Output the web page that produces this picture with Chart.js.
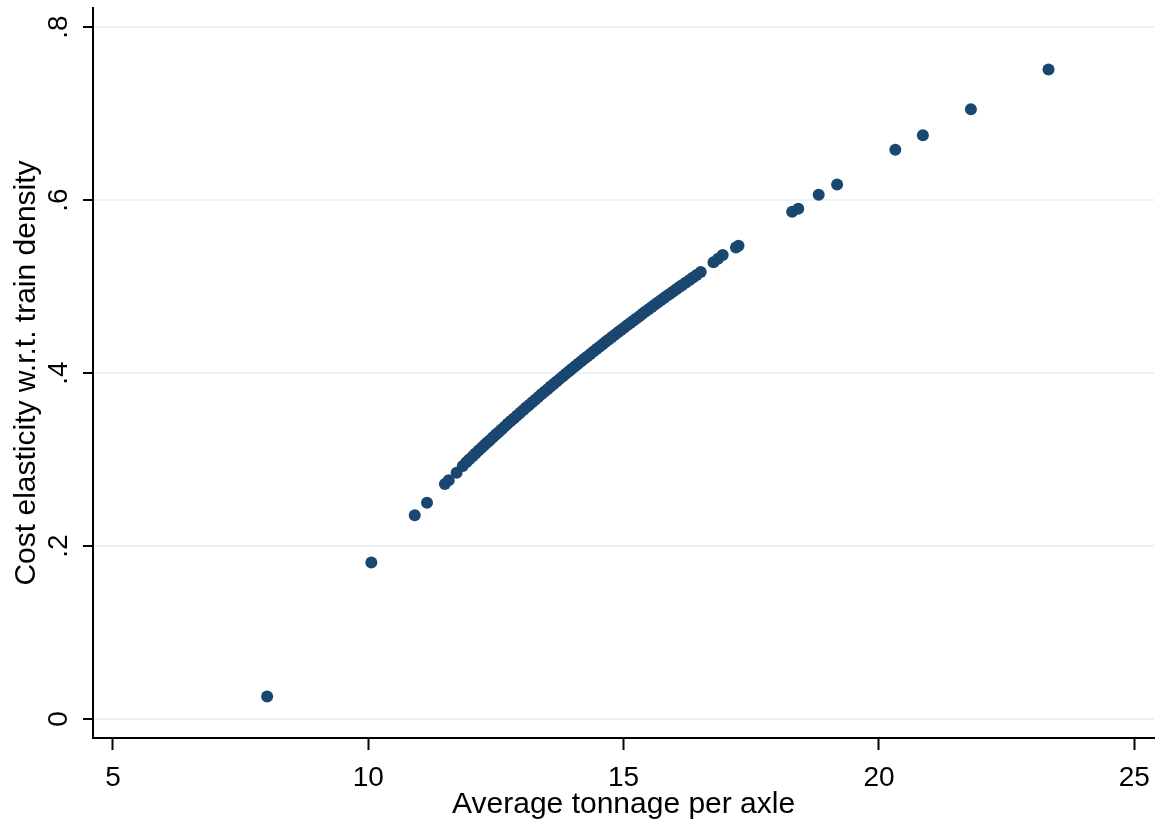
<!DOCTYPE html>
<html>
<head>
<meta charset="utf-8">
<script src="https://cdn.jsdelivr.net/npm/chart.js@4/dist/chart.umd.min.js"></script>
<style>
  html, body { margin: 0; padding: 0; background: #fff; }
  #wrap { width: 1161px; height: 827px; }
</style>
</head>
<body>
<div id="wrap"><canvas id="grafica"></canvas></div>
<script>
// datos
const tonelaje = [
  8.02, 10.06, 10.91, 11.15, 11.50, 11.575, 11.73, 11.85,
  11.92, 11.98, 12.05, 12.10, 12.16, 12.22, 12.27, 12.33, 12.38, 12.44,
  12.50, 12.55, 12.61, 12.67, 12.73, 12.79, 12.85, 12.91, 12.97, 13.03,
  13.09, 13.15, 13.21, 13.27, 13.33, 13.39, 13.45, 13.51, 13.57, 13.63,
  13.69, 13.75, 13.81, 13.87, 13.93, 13.99, 14.05, 14.11, 14.17, 14.23,
  14.29, 14.35, 14.41, 14.47, 14.53, 14.59, 14.65, 14.71, 14.77, 14.83,
  14.89, 14.95, 15.01, 15.07, 15.13, 15.19, 15.25, 15.31, 15.37, 15.43,
  15.49, 15.55, 15.61, 15.67, 15.73, 15.79, 15.85, 15.91, 15.97, 16.03,
  16.09, 16.15, 16.22, 16.29, 16.36, 16.43, 16.51,
  16.76, 16.85, 16.94, 17.20, 17.25,
  18.30, 18.42, 18.82, 19.18, 20.32, 20.86, 21.80, 23.32
];
const elasticidad = [
  0.026, 0.181, 0.2355, 0.250, 0.2717, 0.276, 0.2847, 0.2925,
  0.2968, 0.3002, 0.3041, 0.3069, 0.3103, 0.3136, 0.3164, 0.3196, 0.3223, 0.3256,
  0.3288, 0.3315, 0.3348, 0.3380, 0.3412, 0.3444, 0.3475, 0.3507, 0.3538, 0.3569,
  0.3600, 0.3631, 0.3662, 0.3692, 0.3723, 0.3753, 0.3783, 0.3813, 0.3843, 0.3873,
  0.3903, 0.3932, 0.3961, 0.3990, 0.4020, 0.4049, 0.4078, 0.4106, 0.4135, 0.4164,
  0.4192, 0.4221, 0.4248, 0.4277, 0.4304, 0.4332, 0.4360, 0.4387, 0.4415, 0.4443,
  0.4470, 0.4497, 0.4524, 0.4551, 0.4578, 0.4604, 0.4631, 0.4657, 0.4684, 0.4710,
  0.4736, 0.4763, 0.4788, 0.4814, 0.4840, 0.4866, 0.4892, 0.4917, 0.4942, 0.4968,
  0.4993, 0.5018, 0.5047, 0.5076, 0.5105, 0.5134, 0.5167,
  0.528, 0.532, 0.5364, 0.545, 0.547,
  0.5865, 0.590, 0.606, 0.618, 0.658, 0.675, 0.705, 0.751
];
const ticksX = [5, 10, 15, 20, 25];
const ticksY = [0, 0.2, 0.4, 0.6, 0.8];
const etiquetasY = ['0', '.2', '.4', '.6', '.8'];

const fuente = "'Liberation Sans', Arial, sans-serif";
const azul = '#1a476f';
const rejilla = '#eaf2f3';

// etiquetas del eje y giradas (estilo Stata)
const etiquetasGiradas = {
  id: 'etiquetasGiradas',
  afterDraw(chart) {
    const ctx = chart.ctx;
    const escala = chart.scales.y;
    ctx.save();
    ctx.font = '28px ' + fuente;
    ctx.fillStyle = '#000';
    ctx.textAlign = 'center';
    ctx.textBaseline = 'middle';
    ticksY.forEach((v, i) => {
      const py = escala.getPixelForValue(v);
      ctx.save();
      ctx.translate(59, py);
      ctx.rotate(-Math.PI / 2);
      ctx.fillText(etiquetasY[i], 0, 0);
      ctx.restore();
    });
    ctx.restore();
  }
};

const puntos = tonelaje.map((x, i) => ({ x, y: elasticidad[i] }));

new Chart(document.getElementById('grafica').getContext('2d'), {
  type: 'scatter',
  data: {
    datasets: [{
      data: puntos,
      backgroundColor: azul,
      borderColor: azul,
      borderWidth: 0,
      pointRadius: 6,
      pointHoverRadius: 6,
    }],
  },
  options: {
    responsive: true,
    maintainAspectRatio: false,
    animation: false,
    layout: { padding: { top: 8, right: 6, left: 0, bottom: 0 } },
    plugins: {
      legend: { display: false },
      tooltip: { enabled: false },
    },
    scales: {
      x: {
        type: 'linear',
        min: 4.61,
        max: 25.39,
        afterBuildTicks: scale => { scale.ticks = ticksX.map(v => ({ value: v })); },
        afterFit: scale => { scale.height = 89; },
        grid: {
          display: true,
          drawOnChartArea: false,
          drawTicks: true,
          tickLength: 12,
          tickWidth: 2,
          tickColor: '#000',
        },
        border: { display: true, color: '#000', width: 2 },
        ticks: {
          color: '#000',
          font: { family: fuente, size: 28 },
          padding: 11,
          maxRotation: 0,
          autoSkip: false,
        },
        title: {
          display: true,
          text: 'Average tonnage per axle',
          color: '#000',
          font: { family: fuente, size: 30 },
          padding: { top: 0, bottom: 4 },
        },
      },
      y: {
        type: 'linear',
        min: -0.022,
        max: 0.822,
        afterBuildTicks: scale => { scale.ticks = ticksY.map(v => ({ value: v })); },
        afterFit: scale => { scale.width = 93; },
        grid: {
          display: true,
          drawOnChartArea: true,
          color: rejilla,
          lineWidth: 2,
          drawTicks: true,
          tickLength: 10,
          tickWidth: 2,
          tickColor: '#000',
        },
        border: { display: true, color: '#000', width: 2 },
        ticks: { display: false },
        title: {
          display: true,
          text: 'Cost elasticity w.r.t. train density',
          color: '#000',
          font: { family: fuente, size: 30 },
          padding: { top: 9, bottom: 0 },
        },
      },
    },
  },
  plugins: [etiquetasGiradas],
});
</script>
</body>
</html>
